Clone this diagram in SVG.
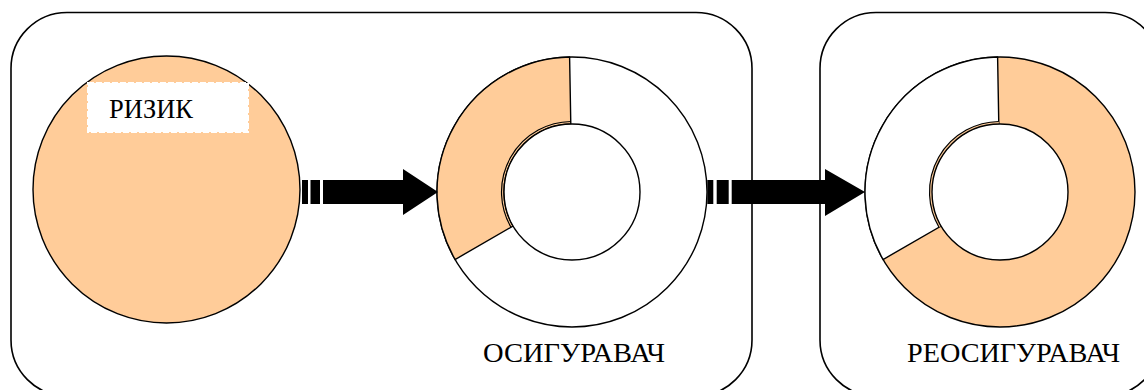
<svg xmlns="http://www.w3.org/2000/svg" width="1144" height="390" viewBox="0 0 1144 390">
  <style>
    .frame { fill: #ffffff; stroke: #000000; stroke-width: 1.6; }
    .ring { stroke: #000000; stroke-width: 1.4; }
    .peach { fill: #FFCC99; }
    .blank { fill: #ffffff; }
    .edge { fill: none; stroke: #000000; stroke-width: 1.2; }
    .label { font-family: "Liberation Serif", "Times New Roman", serif; font-size: 27px; fill: #000000; }
    .arrow { fill: #000000; stroke: none; }
  </style>

  <rect width="1144" height="390" fill="#ffffff"/>

  <!-- frames -->
  <g id="frame-insurer">
    <rect class="frame" x="11" y="12.5" width="741" height="383.5" rx="56" ry="56"/>
  </g>
  <g id="frame-reinsurer">
    <rect class="frame" x="820" y="12.5" width="341" height="383.5" rx="56" ry="56"/>
  </g>

  <!-- risk: full circle -->
  <g id="risk">
    <circle class="peach ring" cx="166.5" cy="189.5" r="133.5"/>
    <rect x="88" y="83" width="160" height="49" fill="#ffffff" stroke="#ffffff" stroke-width="2" stroke-dasharray="6 2"/>
    <text class="label" x="109" y="117.5" textLength="84" lengthAdjust="spacingAndGlyphs">РИЗИК</text>
  </g>

  <!-- insurer: one third retained -->
  <g id="insurer">
    <circle class="blank ring" cx="572" cy="192" r="135"/>
    <path class="peach ring" d="M569.6,57 A135,135 0 0 0 455.1,259.5 L513.1,226 A68,68 0 0 1 570.8,124 Z"/>
    <path class="edge" d="M570.8,121.5 A70.5,70.5 0 0 0 511,227.3" stroke="#555"/>
    <circle class="blank ring" cx="572" cy="192" r="68"/>
    <text class="label" x="483" y="362" textLength="182" lengthAdjust="spacingAndGlyphs">ОСИГУРАВАЧ</text>
  </g>

  <!-- reinsurer: two thirds ceded -->
  <g id="reinsurer">
    <circle class="peach ring" cx="1000" cy="192" r="135"/>
    <path class="blank ring" d="M997.6,57 A135,135 0 0 0 883.1,259.5 L941.1,226 A68,68 0 0 1 998.8,124 Z"/>
    <path class="peach" d="M998.8,121.5 A70.5,70.5 0 0 0 939,227.3 L941.1,226 A68,68 0 0 1 998.8,124 Z"/>
    <path class="edge" d="M998.8,121.5 A70.5,70.5 0 0 0 939,227.3"/>
    <circle class="blank ring" cx="1000" cy="192" r="68"/>
    <text class="label" x="907" y="362" textLength="213" lengthAdjust="spacingAndGlyphs">РЕОСИГУРАВАЧ</text>
  </g>

  <!-- striped block arrows -->
  <g id="connectors">
    <g id="arrow-risk-insurer">
      <rect class="arrow" x="302" y="180" width="6" height="24"/>
      <rect class="arrow" x="310.5" y="180" width="9.5" height="24"/>
      <path class="arrow" d="M323,180 H403 V169 L438,192 L403,215 V204 H323 Z"/>
    </g>
    <g id="arrow-insurer-reinsurer">
      <rect class="arrow" x="707.3" y="180" width="6" height="24"/>
      <rect class="arrow" x="716.7" y="180" width="12" height="24"/>
      <path class="arrow" d="M731.7,180 H825 V169 L865,192 L825,216 V204 H731.7 Z"/>
    </g>
  </g>
</svg>
